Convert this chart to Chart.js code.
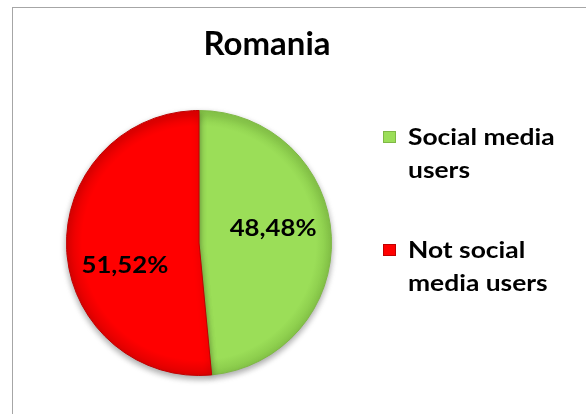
<!DOCTYPE html>
<html>
<head>
<meta charset="utf-8">
<script src="https://cdn.jsdelivr.net/npm/chart.js@4"></script>
<style>
  html, body { margin: 0; padding: 0; background: #fff; overflow: hidden; }
  #frame { position: absolute; left: 12px; top: 7px; width: 640px; height: 460px; border: 1px solid #a6a6a6; }
  #wrap { position: absolute; left: 0; top: 0; width: 586px; height: 414px; }
</style>
</head>
<body>
<div id="frame"></div>
<div id="wrap"><canvas id="pieChart" width="586" height="414"></canvas></div>
<script>
const chartTitle = 'Romania';
const categorias = [['Social media', 'users'], ['Not social', 'media users']];
const valores = [48.48, 51.52];
const cores = ['#9bde58', '#ff0000'];
const coresBorda = ['#7fb845', '#c00000'];
const coresBorra = ['#86c648', '#dd0000'];

const FONTE = 'Lato, "Open Sans", sans-serif';

// deslocamento vertical de cada rótulo de valor
const ajusteRotulo = [-11, 19];

// texto um pouco alargado na horizontal
function textoLargo(ctx, txt, x, y, sx) {
    ctx.save();
    ctx.translate(x, y);
    ctx.scale(sx, 1);
    ctx.fillText(txt, 0, 0);
    ctx.restore();
}

function fatiaGradiente(context) {
    const chart = context.chart;
    const area = chart.chartArea;
    const i = context.dataIndex;
    if (!area) return cores[i];
    const cx = (area.left + area.right) / 2;
    const cy = (area.top + area.bottom) / 2;
    const r = Math.min(area.width, area.height) / 2;
    const g = chart.ctx.createRadialGradient(cx, cy, 0, cx, cy, r);
    g.addColorStop(0, cores[i]);
    g.addColorStop(0.88, cores[i]);
    g.addColorStop(1, coresBorra[i]);
    return g;
}

const sombraPizza = {
    id: 'sombraPizza',
    beforeDatasetsDraw(chart) {
        const ctx = chart.ctx;
        ctx.save();
        ctx.shadowColor = 'rgba(0,0,0,0.35)';
        ctx.shadowBlur = 6;
        ctx.shadowOffsetY = 3;
    },
    afterDatasetsDraw(chart) {
        chart.ctx.restore();
    }
};

const rotulosValor = {
    id: 'rotulosValor',
    afterDatasetsDraw(chart) {
        const ctx = chart.ctx;
        const meta = chart.getDatasetMeta(0);
        ctx.save();
        ctx.font = 'bold 23px ' + FONTE;
        ctx.fillStyle = '#000';
        ctx.textAlign = 'center';
        ctx.textBaseline = 'middle';
        meta.data.forEach((arc, i) => {
            const p = arc.getProps(['x', 'y', 'startAngle', 'endAngle', 'outerRadius'], true);
            const meio = (p.startAngle + p.endAngle) / 2;
            const d = p.outerRadius * 0.56;
            const txt = valores[i].toFixed(2).replace('.', ',') + '%';
            textoLargo(ctx, txt, p.x + Math.cos(meio) * d, p.y + Math.sin(meio) * d + ajusteRotulo[i], 1.12);
        });
        ctx.restore();
    }
};

const tituloELegenda = {
    id: 'tituloELegenda',
    afterDraw(chart) {
        const ctx = chart.ctx;
        ctx.save();
        ctx.fillStyle = '#000';
        ctx.textBaseline = 'alphabetic';
        ctx.textAlign = 'center';
        ctx.font = 'bold 32px ' + FONTE;
        textoLargo(ctx, chartTitle, 267, 55, 1.03);

        ctx.textAlign = 'left';
        ctx.font = 'bold 22px ' + FONTE;
        categorias.forEach((linhas, i) => {
            const base = 145 + i * 113;
            ctx.fillStyle = cores[i];
            ctx.fillRect(383, base - 14, 13, 12);
            ctx.strokeStyle = coresBorda[i];
            ctx.lineWidth = 1;
            ctx.strokeRect(383.5, base - 13.5, 12, 11);
            ctx.fillStyle = '#000';
            linhas.forEach((l, k) => textoLargo(ctx, l, 408, base + k * 33, 1.2));
        });
        ctx.restore();
    }
};

new Chart(document.getElementById('pieChart'), {
    type: 'pie',
    data: {
        labels: categorias.map(c => c.join(' ')),
        datasets: [{
            data: valores,
            backgroundColor: fatiaGradiente,
            borderColor: coresBorda,
            borderWidth: 1
        }]
    },
    options: {
        responsive: false,
        animation: false,
        layout: { padding: { left: 66, top: 110, right: 254, bottom: 38 } },
        plugins: { legend: { display: false }, title: { display: false }, tooltip: { enabled: false } }
    },
    plugins: [sombraPizza, rotulosValor, tituloELegenda]
});
</script>
</body>
</html>
